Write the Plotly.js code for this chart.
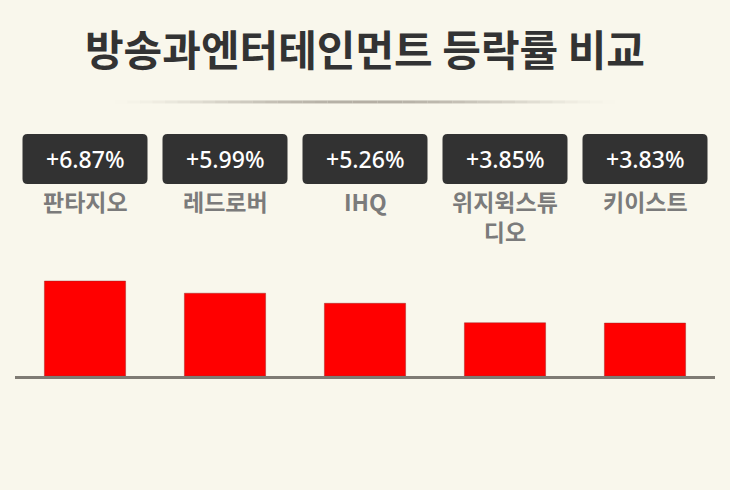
<!DOCTYPE html>
<html>
<head>
<meta charset="utf-8">
<script src="https://cdn.plot.ly/plotly-3.0.1.min.js"></script>
<style>
  html, body { margin: 0; padding: 0; background: #f9f7ec; }
  #chart { width: 730px; height: 490px; }
</style>
</head>
<body>
<div id="chart"></div>
<script>
// ---- data ----
const titleText = '방송과엔터테인먼트 등락률 비교';
const names = ['판타지오', '레드로버', 'IHQ', '위지윅스튜디오', '키이스트'];
const nameLabels = ['판타지오', '레드로버', 'IHQ', '위지윅스튜<br>디오', '키이스트'];
const changes = [6.87, 5.99, 5.26, 3.85, 3.83];

// ---- styling ----
const bg = '#f9f7ec';
const korFont = 'Noto Sans CJK KR, Noto Sans, sans-serif';
const boxY = 0.882;     // paper y of the value boxes
const labelY = 0.784;   // paper y (top) of the names

const fmt = v => (v >= 0 ? '+' : '') + v.toFixed(2) + '%';

const shapes = [];
const annotations = [];

// rounded value boxes
const w = 62.5, h = 25, r = 5;
const boxPath = `M ${-w},${-h + r} L ${-w},${h - r} Q ${-w},${h} ${-w + r},${h} L ${w - r},${h} Q ${w},${h} ${w},${h - r} L ${w},${-h + r} Q ${w},${-h} ${w - r},${-h} L ${-w + r},${-h} Q ${-w},${-h} ${-w},${-h + r} Z`;

names.forEach((n, i) => {
  shapes.push({
    type: 'path', xref: 'x', yref: 'paper',
    xsizemode: 'pixel', ysizemode: 'pixel',
    xanchor: i, yanchor: boxY,
    path: boxPath,
    fillcolor: '#323232', line: { width: 0 }, layer: 'above'
  });
  annotations.push({
    xref: 'x', yref: 'paper', x: n, y: boxY,
    text: fmt(changes[i]), showarrow: false,
    xanchor: 'center', yanchor: 'middle',
    font: { family: 'Noto Sans, sans-serif', size: 23, color: '#ffffff', weight: 500 }
  });
  annotations.push({
    xref: 'x', yref: 'paper', x: n, y: labelY,
    text: nameLabels[i], showarrow: false,
    xanchor: 'center', yanchor: 'top', borderpad: 0,
    font: { family: korFont, size: 23, color: '#7b7b7b', weight: 700 }
  });
});

// gradient divider under the title
const segs = 40, gx0 = 0.143, gx1 = 0.857, gy = 1.114;
for (let k = 0; k < segs; k++) {
  const t = (k + 0.5) / segs;
  const op = Math.pow(Math.sin(Math.PI * t), 1.5) * 0.85;
  shapes.push({
    type: 'line', xref: 'paper', yref: 'paper',
    x0: gx0 + (gx1 - gx0) * k / segs, x1: gx0 + (gx1 - gx0) * (k + 1) / segs,
    y0: gy, y1: gy,
    line: { color: '#a9a398', width: 3 }, opacity: op
  });
}

const trace = {
  type: 'bar',
  x: names,
  y: changes,
  marker: { color: '#ff0000', line: { color: 'rgba(150,40,40,0.45)', width: 1 } },
  hoverinfo: 'skip'
};

const layout = {
  width: 730, height: 490,
  paper_bgcolor: bg, plot_bgcolor: bg,
  margin: { l: 15, r: 15, t: 130, b: 114 },
  showlegend: false,
  bargap: 0.42,
  title: {
    text: titleText, x: 0.5, xanchor: 'center', y: 0.895, yanchor: 'middle',
    font: { family: korFont, size: 42, color: '#333333', weight: 700 }
  },
  xaxis: {
    type: 'category', range: [-0.5, 4.5], fixedrange: true,
    showticklabels: false, showgrid: false, zeroline: false, ticks: '',
    showline: true, linecolor: '#7f7b74', linewidth: 3
  },
  yaxis: {
    range: [0, 17.8], fixedrange: true,
    showticklabels: false, showgrid: false, zeroline: false, showline: false
  },
  shapes: shapes,
  annotations: annotations
};

Plotly.newPlot('chart', [trace], layout, { displayModeBar: false, staticPlot: true });
</script>
</body>
</html>
